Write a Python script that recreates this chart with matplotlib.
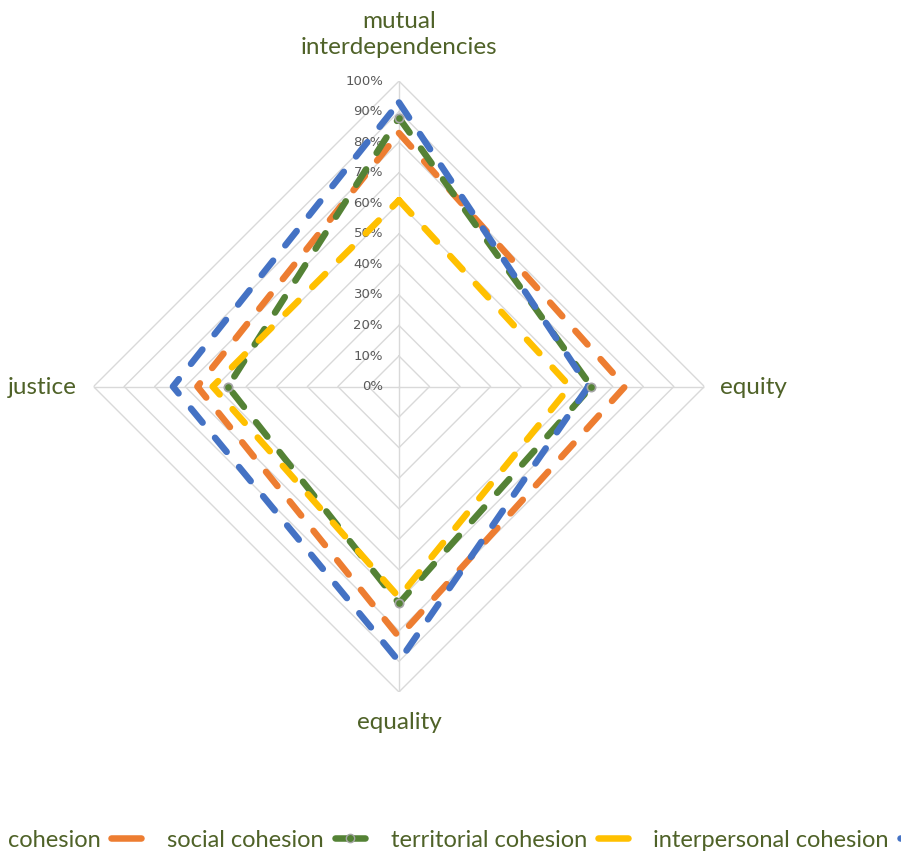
import numpy as np
import matplotlib
matplotlib.use("Agg")
import matplotlib.pyplot as plt
from matplotlib.lines import Line2D

categories = ["mutual\ninterdependencies", "equity", "equality", "justice"]
series_names = ["cohesion", "social cohesion", "territorial cohesion", "interpersonal cohesion"]
cohesion = [0.83, 0.74, 0.82, 0.66]
social_cohesion = [0.88, 0.63, 0.71, 0.56]
territorial_cohesion = [0.61, 0.56, 0.69, 0.61]
interpersonal_cohesion = [0.93, 0.62, 0.90, 0.74]
tick_values = [0.0, 0.1, 0.2, 0.3, 0.4, 0.5, 0.6, 0.7, 0.8, 0.9, 1.0]
tick_labels = ["0%", "10%", "20%", "30%", "40%", "50%", "60%", "70%", "80%", "90%", "100%"]

colors = ["#ED7D31", "#548235", "#FFC000", "#4472C4"]
text_color = "#4F6228"
font = "Lato"

fig = plt.figure(figsize=(9.01, 8.55), dpi=100)
ax = fig.add_axes([0.1038, 0.1906, 0.678, 0.7146], projection="polar")
ax.set_theta_offset(np.pi / 2)
ax.set_theta_direction(-1)
ax.set_ylim(0, 1)
ax.grid(False)
ax.spines["polar"].set_visible(False)
ax.set_xticks([])
ax.set_yticks([])
ax.patch.set_alpha(0)

n = len(categories)
theta = np.arange(n) * 2 * np.pi / n
theta_closed = np.append(theta, theta[0])

# grid diamonds
for v in tick_values[1:]:
    ax.plot(theta_closed, [v] * (n + 1), color="#D9D9D9", lw=1.0, zorder=1)
for t in theta:
    ax.plot([t, t], [0, 1], color="#D9D9D9", lw=1.0, zorder=1)

# tick labels
for v, lab in zip(tick_values, tick_labels):
    ax.annotate(lab, xy=(0, v), xytext=(-11.5, 0), textcoords="offset points",
                ha="right", va="center", fontsize=9.5, color="#595959")

data = [cohesion, social_cohesion, territorial_cohesion, interpersonal_cohesion]
handles = []
for i, (name, vals) in enumerate(zip(series_names, data)):
    vals_c = np.append(vals, vals[0])
    ls = (0, (2.8, 3.0))
    ax.plot(theta_closed, vals_c, color=colors[i], lw=4.7, linestyle=ls,
            dash_capstyle="round", solid_capstyle="round",
            dash_joinstyle="round", zorder=3 + i)
    if i == 1:
        ax.plot(theta, vals, linestyle="none", marker="o", markersize=6,
                markerfacecolor=colors[i], markeredgecolor="#A5A5A5",
                markeredgewidth=1.2, zorder=10)
        h = Line2D([0], [0], color=colors[i], lw=4.7, solid_capstyle="round",
                   marker="o", markersize=6, markerfacecolor=colors[i],
                   markeredgecolor="#A5A5A5", markevery=[1])
    else:
        h = Line2D([0], [0], color=colors[i], lw=4.7, solid_capstyle="round")
    handles.append(h)

# category labels
label_pos = [(0.443, 0.960, "center", "center"), (0.799, 0.547, "left", "center"),
             (0.443, 0.155, "center", "center"), (0.009, 0.547, "left", "center")]
for cat, (x, y, ha, va) in zip(categories, label_pos):
    fig.text(x, y, cat, ha=ha, va=va, fontsize=17.5, color=text_color,
             family=font, linespacing=1.3)

leg = fig.legend(handles, series_names, loc="center left", bbox_to_anchor=(0.009, 0.0175),
                 ncol=4, frameon=False, markerfirst=False, handlelength=1.27,
                 handletextpad=0.45, columnspacing=1.1, borderpad=0, borderaxespad=0,
                 prop={"family": font, "size": 17})
for t in leg.get_texts():
    t.set_color(text_color)

fig.savefig("out.png", dpi=100)
